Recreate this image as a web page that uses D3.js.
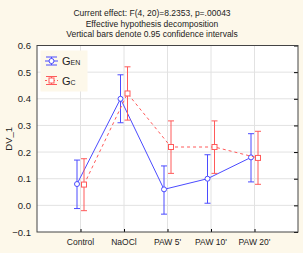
<!DOCTYPE html>
<html>
<head>
<meta charset="utf-8">
<script src="https://cdnjs.cloudflare.com/ajax/libs/d3/7.8.5/d3.min.js"></script>
<style>
  body { margin: 0; background: #fdf8ea; }
  svg { display: block; font-family: "Liberation Sans", Arial, sans-serif; }
</style>
</head>
<body>
<div id="chart-root"></div>
<script>
var categories = ["Control", "NaOCl", "PAW 5'", "PAW 10'", "PAW 20'"];
var yTicks = [-0.1, 0.0, 0.1, 0.2, 0.3, 0.4, 0.5, 0.6];
var titleLines = [
    "Current effect: F(4, 20)=8.2353, p=.00043",
    "Effective hypothesis decomposition",
    "Vertical bars denote 0.95 confidence intervals"
];
// G_EN series
var genMean = [0.08, 0.40, 0.06, 0.10, 0.18];
var genLow  = [-0.012, 0.31, -0.033, 0.008, 0.088];
var genHigh = [0.17, 0.49, 0.148, 0.19, 0.269];
// G_C series
var gcMean = [0.078, 0.42, 0.219, 0.219, 0.178];
var gcLow  = [-0.02, 0.32, 0.12, 0.12, 0.079];
var gcHigh = [0.175, 0.52, 0.317, 0.317, 0.278];

var width = 303, height = 253;
var margin = { top: 45.5, left: 37, right: 5, bottom: 21 };

var svg = d3.select("#chart-root")
    .append("svg")
    .attr("width", width)
    .attr("height", height);

// x: categories sit at 1..5 on a 0..6 linear scale
var x = d3.scaleLinear()
    .domain([0, categories.length + 1])
    .range([margin.left, width - margin.right]);

var y = d3.scaleLinear()
    .domain([-0.1, 0.6])
    .range([height - margin.bottom, margin.top]);

// plot background
svg.append("rect")
    .attr("x", x(0)).attr("y", y(0.6))
    .attr("width", x(6) - x(0)).attr("height", y(-0.1) - y(0.6))
    .attr("fill", "white");

// grid
svg.append("g")
    .selectAll("line")
    .data(yTicks.slice(1, -1))
    .enter().append("line")
    .attr("x1", x(0)).attr("x2", x(6))
    .attr("y1", function(d) { return y(d); })
    .attr("y2", function(d) { return y(d); })
    .attr("stroke", "#e2e2e2");
svg.append("g")
    .selectAll("line")
    .data(categories)
    .enter().append("line")
    .attr("x1", function(d, i) { return x(i + 1); })
    .attr("x2", function(d, i) { return x(i + 1); })
    .attr("y1", y(0.6)).attr("y2", y(-0.1))
    .attr("stroke", "#e2e2e2");

// axes
var yAxis = svg.append("g")
    .attr("transform", "translate(" + x(0) + ",0)")
    .call(d3.axisLeft(y).tickValues(yTicks).tickFormat(d3.format(".1f")).tickSize(0).tickPadding(6));
yAxis.select(".domain").remove();
yAxis.selectAll("text").attr("font-size", "9.5px").attr("fill", "#222").attr("font-family", "Liberation Sans, Arial, sans-serif");

svg.append("g")
    .attr("transform", "translate(" + x(6) + ",0)")
    .call(d3.axisLeft(y).tickValues(yTicks).tickFormat("").tickSize(4))
    .select(".domain").remove();

var xAxis = svg.append("g")
    .attr("transform", "translate(0," + y(-0.1) + ")")
    .call(d3.axisTop(x).tickValues(d3.range(1, 6)).tickFormat("").tickSize(3));
xAxis.select(".domain").remove();

svg.append("g")
    .selectAll("text")
    .data(categories)
    .enter().append("text")
    .attr("x", function(d, i) { return x(i + 1); })
    .attr("y", y(-0.1) + 13)
    .attr("text-anchor", "middle")
    .attr("font-size", "8.5px")
    .attr("fill", "#222")
    .text(function(d) { return d; });

// frame
svg.append("rect")
    .attr("x", x(0)).attr("y", y(0.6))
    .attr("width", x(6) - x(0)).attr("height", y(-0.1) - y(0.6))
    .attr("fill", "none")
    .attr("stroke", "#444");

// y label
svg.append("text")
    .attr("transform", "translate(12," + y(0.25) + ") rotate(-90)")
    .attr("text-anchor", "middle")
    .attr("font-size", "9.5px")
    .attr("fill", "#222")
    .text("DV_1");

// title
svg.append("g")
    .selectAll("text")
    .data(titleLines)
    .enter().append("text")
    .attr("x", 152)
    .attr("y", function(d, i) { return 16 + i * 10.5; })
    .attr("text-anchor", "middle")
    .attr("font-size", "8.5px")
    .attr("fill", "#222")
    .text(function(d) { return d; });

// series
var series = [
    { name: "EN", mean: genMean, low: genLow, high: genHigh, color: "#4b4bff", dash: null, shift: -3.5, marker: "circle" },
    { name: "C", mean: gcMean, low: gcLow, high: gcHigh, color: "#ff5a5a", dash: "3,3", shift: 3.5, marker: "square" }
];

function drawSeries(s) {
    var g = svg.append("g");
    var px = function(i) { return x(i + 1) + s.shift; };
    var line = d3.line()
        .x(function(d, i) { return px(i); })
        .y(function(d) { return y(d); });
    g.append("path")
        .attr("d", line(s.mean))
        .attr("fill", "none")
        .attr("stroke", s.color)
        .attr("stroke-width", 1)
        .attr("stroke-dasharray", s.dash);
    s.mean.forEach(function(m, i) {
        var cx = px(i);
        g.append("line")
            .attr("x1", cx).attr("x2", cx)
            .attr("y1", y(s.low[i])).attr("y2", y(s.high[i]))
            .attr("stroke", s.color);
        [s.low[i], s.high[i]].forEach(function(v) {
            g.append("line")
                .attr("x1", cx - 3).attr("x2", cx + 3)
                .attr("y1", y(v)).attr("y2", y(v))
                .attr("stroke", s.color);
        });
        drawMarker(g, s, cx, y(m));
    });
}

function drawMarker(g, s, cx, cy) {
    if (s.marker == "circle") {
        g.append("circle")
            .attr("cx", cx).attr("cy", cy).attr("r", 2.5)
            .attr("fill", "white").attr("stroke", s.color);
    } else {
        g.append("rect")
            .attr("x", cx - 2.5).attr("y", cy - 2.5)
            .attr("width", 5).attr("height", 5)
            .attr("fill", "white").attr("stroke", s.color);
    }
}

series.forEach(drawSeries);

// legend
var legend = svg.append("g");
legend.append("rect")
    .attr("x", 40.5).attr("y", 50.5)
    .attr("width", 47).attr("height", 41)
    .attr("fill", "#fdf8ea");
series.forEach(function(s, i) {
    var ly = 61 + i * 19.5;
    legend.append("line")
        .attr("x1", 45).attr("x2", 58)
        .attr("y1", ly).attr("y2", ly)
        .attr("stroke", s.color)
        .attr("stroke-dasharray", s.dash ? "2,2" : null);
    legend.append("line")
        .attr("x1", 51.5).attr("x2", 51.5)
        .attr("y1", ly - 4).attr("y2", ly + 4)
        .attr("stroke", s.color);
    [ly - 4, ly + 4].forEach(function(v) {
        legend.append("line")
            .attr("x1", 46).attr("x2", 57)
            .attr("y1", v).attr("y2", v)
            .attr("stroke", s.color);
    });
    drawMarker(legend, s, 51.5, ly);
    var t = legend.append("text")
        .attr("x", 62).attr("y", ly + 4)
        .attr("font-size", "11px")
        .attr("fill", "#222");
    t.append("tspan").text("G");
    t.append("tspan").attr("font-size", "7px").attr("dy", 0).text(s.name);
});
</script>
</body>
</html>
